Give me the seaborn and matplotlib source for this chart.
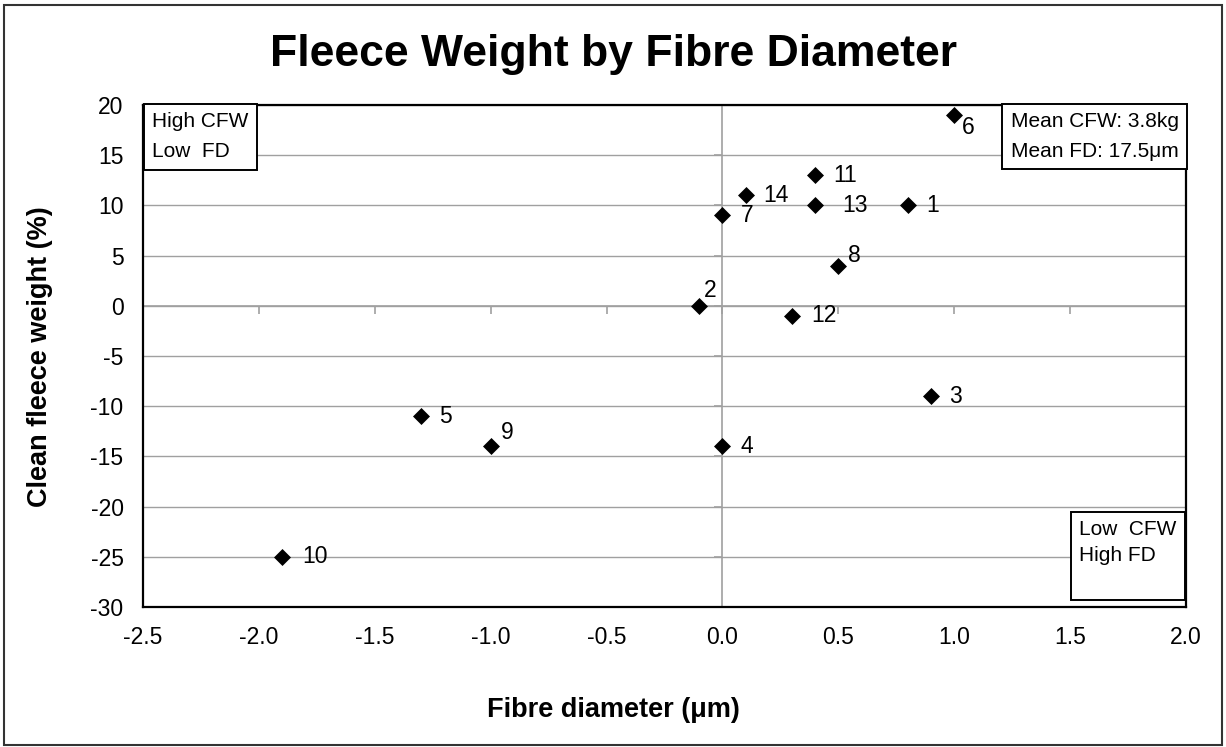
import numpy as np
import pandas as pd
import matplotlib
matplotlib.use('Agg')
import matplotlib.pyplot as plt
import seaborn as sns
from matplotlib.patches import Rectangle

# data
sheep_id = [1, 2, 3, 4, 5, 6, 7, 8, 9, 10, 11, 12, 13, 14]
fibre_diam = [0.8, -0.1, 0.9, 0.0, -1.3, 1.0, 0.0, 0.5, -1.0, -1.9, 0.4, 0.3, 0.4, 0.1]
fleece_wt = [10, 0, -9, -14, -11, 19, 9, 4, -14, -25, 13, -1, 10, 11]
x_ticks = [-2.5, -2.0, -1.5, -1.0, -0.5, 0.0, 0.5, 1.0, 1.5, 2.0]
y_ticks = [20, 15, 10, 5, 0, -5, -10, -15, -20, -25, -30]

df = pd.DataFrame({'id': sheep_id, 'fd': fibre_diam, 'cfw': fleece_wt})

# label offsets in pixels
offsets = {2: (5, 15), 6: (8, -12), 8: (10, 10), 9: (10, 14), 12: (19, 0), 10: (20, 0),
           13: (27, 0)}

sns.set_theme(style='white')
plt.rcParams['font.family'] = ['Liberation Sans', 'DejaVu Sans']
plt.rcParams['text.color'] = 'black'
plt.rcParams['axes.labelcolor'] = 'black'

fig = plt.figure(figsize=(12.26, 7.47), dpi=100)
ax = fig.add_axes([0.1166, 0.1874, 0.8508, 0.672])

# gridlines and zero axes
for yv in y_ticks:
    ax.axhline(yv, color='#a0a0a0', lw=1.0, zorder=0)
ax.axvline(0, color='#a0a0a0', lw=1.2, zorder=1)
ax.axhline(0, color='#a0a0a0', lw=1.2, zorder=1)
ax.plot(x_ticks, [0] * len(x_ticks), ls='none', marker=3, ms=6, color='#a0a0a0', mew=1.2)
ax.plot([0] * len(y_ticks), y_ticks, ls='none', marker=0, ms=6, color='#a0a0a0', mew=1.2)

sns.scatterplot(data=df, x='fd', y='cfw', marker='D', s=75, color='black',
                edgecolor='black', linewidth=0, ax=ax, zorder=3, legend=False)

for _, r in df.iterrows():
    dx, dy = offsets.get(r['id'], (18, 0))
    ax.annotate(str(int(r['id'])), (r['fd'], r['cfw']), xytext=(dx, dy),
                textcoords='offset pixels', ha='left', va='center', fontsize=16.5)

ax.set_xlim(-2.5, 2.0)
ax.set_ylim(-30, 20)
ax.set_xticks(x_ticks)
ax.set_xticklabels([f'{v:.1f}' for v in x_ticks])
ax.set_yticks(y_ticks)
ax.set_yticklabels([str(v) for v in y_ticks])
ax.tick_params(length=0, labelsize=16.5, colors='black')
ax.tick_params(axis='x', pad=14)
ax.tick_params(axis='y', pad=14)
ax.set_xlabel('')
ax.set_ylabel('')
for s in ax.spines.values():
    s.set_color('black')
    s.set_linewidth(1.6)

# corner boxes
box = dict(boxstyle='square,pad=0.4', fc='white', ec='black', lw=1.4)
ax.text(0.009, 0.986, 'High CFW\nLow  FD', transform=ax.transAxes, ha='left', va='top',
        fontsize=15, linespacing=1.75, bbox=box, zorder=5)
ax.text(0.993, 0.986, 'Mean CFW: 3.8kg\nMean FD: 17.5\u03bcm', transform=ax.transAxes,
        ha='right', va='top', fontsize=15, linespacing=1.7, bbox=box, zorder=5)
ax.text(0.991, 0.03, 'Low  CFW\nHigh FD\n', transform=ax.transAxes, ha='right', va='bottom',
        multialignment='left', fontsize=15, linespacing=1.5, bbox=box, zorder=5)

fig.text(0.5, 0.927, 'Fleece Weight by Fibre Diameter', ha='center', va='center',
         fontsize=32, fontweight='bold')
fig.text(0.5, 0.05, 'Fibre diameter (\u03bcm)', ha='center', va='center',
         fontsize=19.5, fontweight='bold')
fig.text(0.033, 0.523, 'Clean fleece weight (%)', ha='center', va='center',
         fontsize=19.5, fontweight='bold', rotation=90)

# outer chart border
fig.add_artist(Rectangle((0.003, 0.003), 0.994, 0.99, transform=fig.transFigure,
                         fill=False, ec='#333333', lw=1.5))

fig.savefig('out.png', dpi=100)
